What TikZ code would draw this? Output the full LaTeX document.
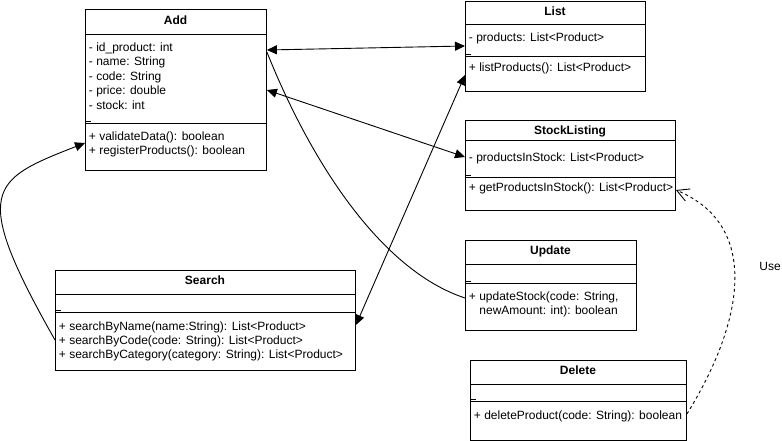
\documentclass[tikz,border=0pt]{standalone}
\usepackage{fontspec}
\setmainfont{Liberation Sans}
\usetikzlibrary{arrows.meta}
\begin{document}
\begin{tikzpicture}
      [x=1pt,y=-1pt,line width=0.9pt,
       font=\fontsize{12}{14.5}\selectfont,
       classbox/.style={draw,anchor=north west,inner sep=0},
       title/.style={anchor=base,inner sep=0,font=\fontsize{12}{14.5}\selectfont\bfseries},
       member/.style={anchor=base west,inner sep=0},
       both/.style={{Triangle[length=10pt,width=9pt]}-{Triangle[length=10pt,width=9pt]}},
       uses/.style={dash pattern=on 3pt off 3pt,-{Straight Barb[length=12pt,width=13pt]}}]
      \useasboundingbox (0,0) rectangle (782,441);
      % class boxes
      \node at (85,9) (add) [classbox,minimum width=181pt,minimum height=161pt] {};
      \node at (465,1) (list) [classbox,minimum width=180pt,minimum height=90pt] {};
      \node at (465,120) (stock) [classbox,minimum width=210pt,minimum height=90pt] {};
      \node at (465,240) (update) [classbox,minimum width=171pt,minimum height=90pt] {};
      \node at (470,360) (delete) [classbox,minimum width=216pt,minimum height=80pt] {};
      \node at (55,270) (search) [classbox,minimum width=300pt,minimum height=100pt] {};
      % compartments
      \draw (85,34) -- (266,34);   \draw (85,123) -- (266,123);
      \draw (465,24) -- (645,24);  \draw (465,56) -- (645,56);
      \draw (465,140) -- (675,140); \draw (465,177) -- (675,177);
      \draw (465,264) -- (636,264); \draw (465,283) -- (636,283);
      \draw (470,384) -- (686,384); \draw (470,401) -- (686,401);
      \draw (55,294) -- (355,294);  \draw (55,312) -- (355,312);
      \foreach \x/\y in {86/121,466/54,466/175,466/281,471/399,56/310}
         \draw (\x,\y) -- ++(5,0);
      % Add
      \node at (175.5,24.5) (addname) [title] {Add};
      \node at (88.5,51.5) (addid) [member] {- id\_product: int};
      \node at (88.5,66) (addnm) [member] {- name: String};
      \node at (88.5,80.5) (addcode) [member] {- code: String};
      \node at (88.5,95) (addprice) [member] {- price: double};
      \node at (88.5,109.5) (addstock) [member] {- stock: int};
      \node at (88.5,140.5) (addval) [member] {+ validateData(): boolean};
      \node at (88.5,154.5) (addreg) [member] {+ registerProducts(): boolean};
      % List
      \node at (555,15.5) (listname) [title] {List};
      \node at (468.5,41.5) (listprod) [member] {- products: List<Product>};
      \node at (468.5,72) (listop) [member] {+ listProducts(): List<Product>};
      % StockListing
      \node at (570,134.5) (stockname) [title] {StockListing};
      \node at (468.5,161) (stockprod) [member] {- productsInStock: List<Product>};
      \node at (468.5,191) (stockop) [member] {+ getProductsInStock(): List<Product>};
      % Update
      \node at (550.5,254.5) (updatename) [title] {Update};
      \node at (468.5,300.5) (updateop) [member] {+ updateStock(code: String,};
      \node at (479,314.5) (updateop2) [member] {newAmount: int): boolean};
      % Delete
      \node at (578,374.5) (deletename) [title] {Delete};
      \node at (473.5,419) (deleteop) [member] {+ deleteProduct(code: String): boolean};
      % Search
      \node at (205,284.5) (searchname) [title] {Search};
      \node at (58.5,330) (searchname1) [member] {+ searchByName(name:String): List<Product>};
      \node at (58.5,344.5) (searchcode) [member] {+ searchByCode(code: String): List<Product>};
      \node at (58.5,358.5) (searchcat) [member] {+ searchByCategory(category: String): List<Product>};
      % connectors
      \draw [both] (add.east |- 0,50) -- (list.west |- 0,46);
      \draw [both] (add.east |- 0,90) -- (stock.west |- 0,157);
      \draw (add.east |- 0,52) .. controls (310,160) and (380,270) .. (update.west |- 0,298);
      \draw [both] (search.east |- 0,325) -- (list.west |- 0,75);
      \draw [-{Triangle[length=10pt,width=9pt]}] (search.west |- 0,340)
         .. controls (-30,190) and (-10,180) .. (add.west |- 0,143);
      \draw [uses] (delete.east |- 0,414) .. controls (745,320) and (760,225) .. (stock.east |- 0,190);
      \node at (770,266) (uselabel) {Use};
    \end{tikzpicture}
\end{document}
